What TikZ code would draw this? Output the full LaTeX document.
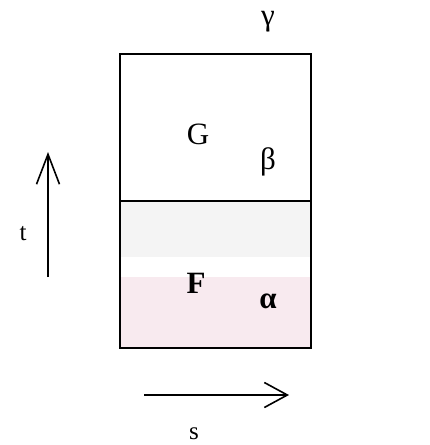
\documentclass[tikz,border=0pt]{standalone}
\usepackage{fontspec}
\setmainfont{Liberation Serif}
\usepackage{xcolor}
\usetikzlibrary{arrows.meta,positioning}

\definecolor{scangray}{HTML}{F4F4F4}
\definecolor{scanpink}{HTML}{F8EAEF}

\begin{document}
\begin{tikzpicture}[
    x=1pt, y=-1pt,
    font=\fontsize{31}{36}\selectfont,
    cell/.style={rectangle, draw, line width=1.8pt, minimum width=191pt, minimum height=147pt, inner sep=0pt, outer sep=0pt},
    lbl/.style={inner sep=0pt, anchor=center},
    arr/.style={-{Straight Barb[length=30pt,width=23pt,line width=1.6pt]}, line width=1.7pt},
    sarr/.style={-{Straight Barb[length=23pt,width=25pt,line width=1.6pt]}, line width=1.7pt}
]
\useasboundingbox (0,0) rectangle (430,445);
% faint scan tones
\fill[scangray] (120,201) rectangle (311,257);
\fill[scanpink] (120,277) rectangle (311,347);
% the two cells, stacked
\node[cell] (Gcell) at (215.5,127.5) {};
\node[cell, below=0pt of Gcell] (Fcell) {};
% labels inside and above
\node[lbl] (Glbl) at (198,134) {G};
\node[lbl] (beta) at (268,162) {β};
\node[lbl] (Flbl) at (196,283) {\textbf{F}};
\node[lbl] (alpha) at (268,301) {\textbf{α}};
\node[lbl] (gamma) at (268,22) {γ};
% time axis
\coordinate (t0) at (48,277);
\coordinate (t1) at (48,152);
\draw[arr] (t0) -- (t1);
\node[lbl, font=\fontsize{25}{30}\selectfont] (tlbl) at (23,234) {t};
% space axis
\coordinate (s0) at (144,395);
\coordinate (s1) at (289,395);
\draw[sarr] (s0) -- (s1);
\node[lbl, font=\fontsize{25}{30}\selectfont] (slbl) at (194,434) {s};
\end{tikzpicture}
\end{document}
